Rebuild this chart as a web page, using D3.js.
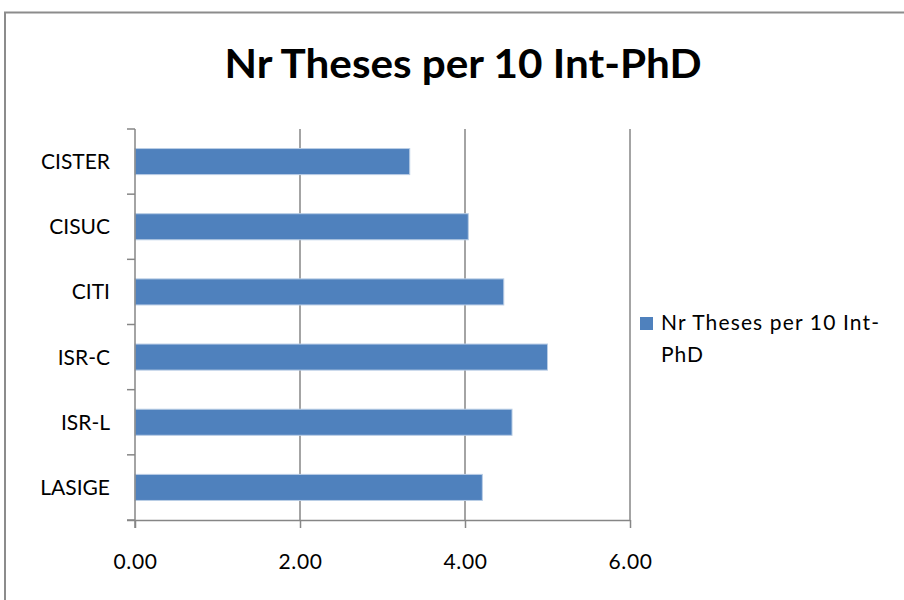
<!DOCTYPE html>
<html>
<head>
<meta charset="utf-8">
<script src="https://cdn.jsdelivr.net/npm/d3@7"></script>
<style>
  html, body { margin: 0; padding: 0; background: #fff; }
  svg { display: block; }
</style>
</head>
<body>
<svg id="chart" width="904" height="600"></svg>
<script>
const categories = ["CISTER", "CISUC", "CITI", "ISR-C", "ISR-L", "LASIGE"];
const values = [3.33, 4.04, 4.47, 5.00, 4.57, 4.21];
const tickValues = [0, 2, 4, 6];
const seriesName = "Nr Theses per 10 Int-PhD";
const titleText = "Nr Theses per 10 Int-PhD";

const svg = d3.select("#chart");
const font = "Lato, 'Open Sans', sans-serif";
const gray = "#868686";

// outer border
svg.append("rect")
  .attr("x", 5).attr("y", 12.5)
  .attr("width", 920).attr("height", 620)
  .attr("fill", "none").attr("stroke", "#8c8c8c").attr("stroke-width", 2);

// title
svg.append("text")
  .attr("x", 463).attr("y", 77.5)
  .attr("text-anchor", "middle")
  .attr("font-family", font).attr("font-weight", "bold")
  .attr("font-size", 41)
  .attr("textLength", 477).attr("lengthAdjust", "spacingAndGlyphs")
  .attr("fill", "#000")
  .text(titleText);

const x = d3.scaleLinear().domain([0, 6]).range([135, 630]);
const y = d3.scaleBand().domain(categories).range([129, 520])
  .paddingInner(0.6).paddingOuter(0.3);

// gridlines
svg.append("g").selectAll("line")
  .data(tickValues.filter(d => d > 0))
  .join("line")
  .attr("x1", d => x(d)).attr("x2", d => x(d))
  .attr("y1", 129).attr("y2", 520)
  .attr("stroke", gray).attr("stroke-width", 1.5);

// bars
svg.append("g").selectAll("rect")
  .data(categories.map((c, i) => ({ c, v: values[i] })))
  .join("rect")
  .attr("x", x(0))
  .attr("y", d => y(d.c))
  .attr("width", d => x(d.v) - x(0))
  .attr("height", y.bandwidth())
  .attr("fill", "#4F81BD")
  .attr("stroke", "#B9CDE5").attr("stroke-width", 1);

// bottom axis
const xAxis = d3.axisBottom(x).tickValues(tickValues)
  .tickFormat(d3.format(".2f")).tickSize(8).tickSizeOuter(0);
const gx = svg.append("g").attr("transform", "translate(0,520)").call(xAxis);
gx.select(".domain").attr("stroke", gray).attr("stroke-width", 1.5)
  .attr("d", "M127,0.5H630");
gx.selectAll(".tick line").attr("stroke", gray).attr("stroke-width", 1.5);
gx.selectAll(".tick text")
  .attr("font-family", font).attr("font-size", 21).attr("fill", "#000")
  .attr("letter-spacing", 0.6)
  .attr("y", 48.5).attr("dy", 0);

// left axis: ticks at band boundaries
const boundaries = d3.range(categories.length + 1).map(i => 129 + i * y.step());
svg.append("line")
  .attr("x1", 135).attr("x2", 135).attr("y1", 129).attr("y2", 528)
  .attr("stroke", gray).attr("stroke-width", 1.5);
svg.append("g").selectAll("line")
  .data(boundaries)
  .join("line")
  .attr("x1", 127).attr("x2", 135)
  .attr("y1", d => d).attr("y2", d => d)
  .attr("stroke", gray).attr("stroke-width", 1.5);

svg.append("g").selectAll("text")
  .data(categories)
  .join("text")
  .attr("x", 110)
  .attr("y", d => y(d) + y.bandwidth() / 2 + 7.5)
  .attr("text-anchor", "end")
  .attr("font-family", font).attr("font-size", 21).attr("fill", "#000")
  .text(d => d);

// legend
const lg = svg.append("g");
lg.append("rect")
  .attr("x", 640).attr("y", 317).attr("width", 13).attr("height", 13)
  .attr("fill", "#4F81BD");
const lt = lg.append("text")
  .attr("font-family", font).attr("font-size", 21).attr("fill", "#000");
lt.append("tspan").attr("x", 661).attr("y", 330)
  .attr("textLength", 218).attr("lengthAdjust", "spacing")
  .text("Nr Theses per 10 Int-");
lt.append("tspan").attr("x", 661).attr("y", 362)
  .attr("letter-spacing", 1).text("PhD");
</script>
</body>
</html>
